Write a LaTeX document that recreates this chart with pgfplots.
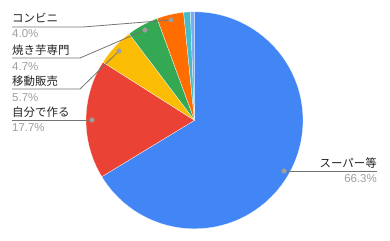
\documentclass[border=0pt]{standalone}
\usepackage{pgfplots}
\usepackage{pgfplotstable}
\pgfplotsset{compat=1.18}
\usepackage{fontspec}
\setmainfont{Liberation Sans}
\newfontfamily\jp{Noto Sans CJK JP}

\definecolor{pblue}{HTML}{4285F4}
\definecolor{pred}{HTML}{EA4335}
\definecolor{pyellow}{HTML}{FBBC04}
\definecolor{pgreen}{HTML}{34A853}
\definecolor{porange}{HTML}{FF6D01}
\definecolor{pteal}{HTML}{46BDC6}
\definecolor{plight}{HTML}{7BAAF7}
\definecolor{lblgray}{HTML}{9E9E9E}
\definecolor{leader}{HTML}{757575}
\definecolor{lbltext}{HTML}{222222}

% shares in percent, clockwise from 12 o'clock
\pgfplotstableread{
share color
66.3 pblue
17.7 pred
5.7 pyellow
4.7 pgreen
4.0 porange
1.0 pteal
0.6 plight
}\piedata

\begin{document}
\begin{tikzpicture}
\begin{axis}[
  x=1bp, y=1bp,
  xmin=0, xmax=390, ymin=0, ymax=241,
  hide axis, clip=false,
]
% pie slices
\def\start{90}
\pgfplotsforeachungrouped \i in {0,...,6}{
  \pgfplotstablegetelem{\i}{share}\of\piedata \let\share\pgfplotsretval
  \pgfplotstablegetelem{\i}{color}\of\piedata \let\col\pgfplotsretval
  \pgfmathsetmacro\stop{\start-3.6*\share}
  \edef\temp{\noexpand\fill[\col, draw=white, line width=0.25bp]
    (axis cs:194.5,120.7) -- ++(\start:108.5bp)
    arc[start angle=\start, end angle=\stop, radius=108.5bp] -- cycle;}
  \temp
  \global\let\start\stop
}

% leader lines
\addplot[leader, line width=0.8bp, mark=none] coordinates {(12,214) (83,214) (158,220) (171,221)};
\addplot[leader, line width=0.8bp, mark=none] coordinates {(12,183) (80,183) (145,211)};
\addplot[leader, line width=0.8bp, mark=none] coordinates {(12,152) (80,152) (119,190)};
\addplot[leader, line width=0.8bp, mark=none] coordinates {(12,121) (92,121)};
\addplot[leader, line width=0.8bp, mark=none] coordinates {(284,70) (377,70)};
\addplot[only marks, mark=*, mark size=2.3bp, lblgray, mark options={draw=lblgray, fill=lblgray}]
  coordinates {(171,221) (145,211) (119,190) (92,121) (284,70)};

% labels
\begin{scope}[every node/.style={inner sep=0pt, font=\fontsize{11.5}{13}\selectfont}]
\node[anchor=west, text=lbltext] at (axis cs:12,223) {\jp コンビニ};
\node[anchor=west, text=lblgray] at (axis cs:12,207) {4.0\%};
\node[anchor=west, text=lbltext] at (axis cs:12,191) {\jp 焼き芋専門};
\node[anchor=west, text=lblgray] at (axis cs:12,174) {4.7\%};
\node[anchor=west, text=lbltext] at (axis cs:12,160) {\jp 移動販売};
\node[anchor=west, text=lblgray] at (axis cs:12,143) {5.7\%};
\node[anchor=west, text=lbltext] at (axis cs:12,129) {\jp 自分で作る};
\node[anchor=west, text=lblgray] at (axis cs:12,113) {17.7\%};
\node[anchor=east, text=lbltext] at (axis cs:377,78) {\jp スーパー等};
\node[anchor=east, text=lblgray] at (axis cs:377,62) {66.3\%};
\end{scope}
\end{axis}
\pgfresetboundingbox
\path (current axis.south west) rectangle (current axis.north east);
\end{tikzpicture}
\end{document}
